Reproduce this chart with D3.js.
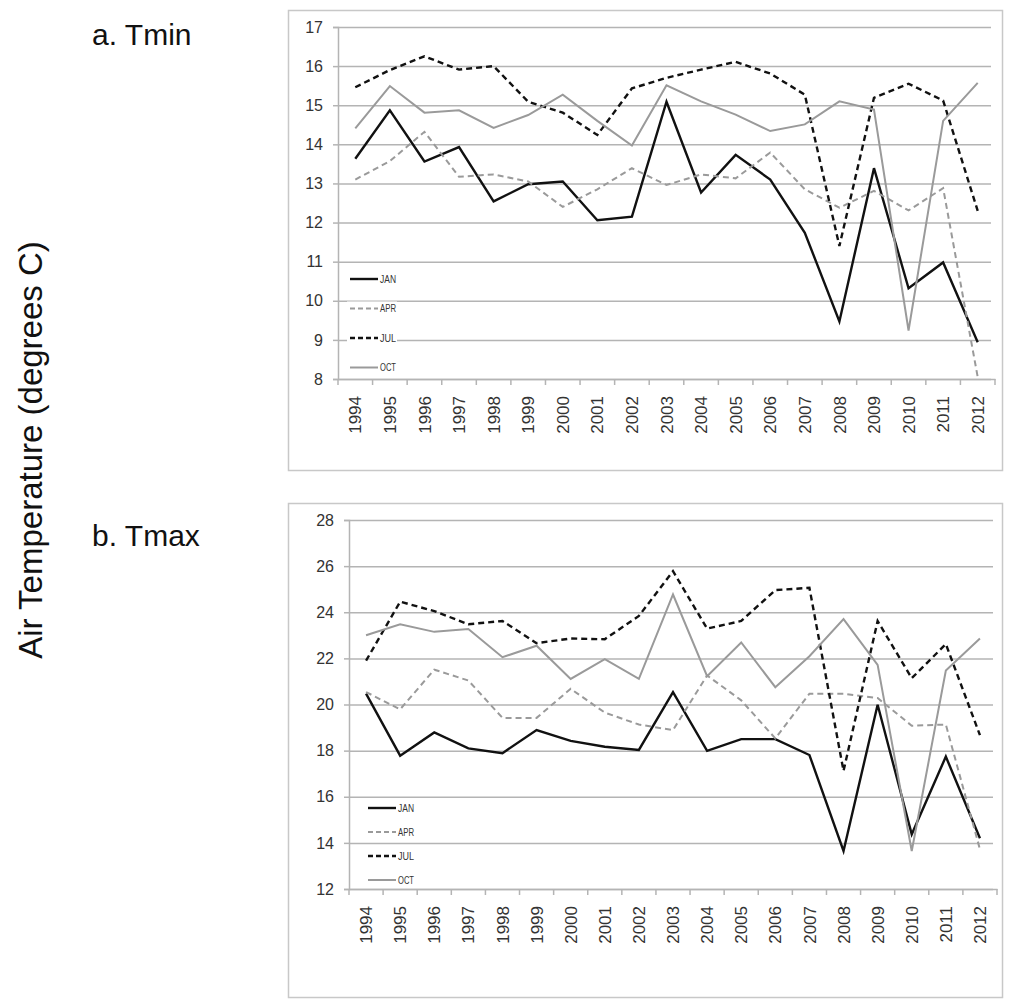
<!DOCTYPE html>
<html>
<head>
<meta charset="utf-8">
<script src="https://cdn.jsdelivr.net/npm/d3@7"></script>
<style>
  body { margin: 0; background: #fff; }
  svg { display: block; }
</style>
</head>
<body>
<svg id="chart" width="1024" height="1004"></svg>
<script>
const years = [1994, 1995, 1996, 1997, 1998, 1999, 2000, 2001, 2002, 2003,
               2004, 2005, 2006, 2007, 2008, 2009, 2010, 2011, 2012];

// a. Tmin
const tminJan = [13.63, 14.87, 13.56, 13.93, 12.54, 12.98, 13.05, 12.06, 12.15, 15.09,
                 12.77, 13.73, 13.10, 11.74, 9.47, 13.39, 10.32, 10.98, 8.94];
const tminApr = [13.10, 13.57, 14.32, 13.17, 13.23, 13.05, 12.40, 12.85, 13.39, 12.96,
                 13.23, 13.13, 13.79, 12.85, 12.38, 12.81, 12.31, 12.88, 8.05];
const tminJul = [15.46, 15.90, 16.25, 15.91, 16.00, 15.09, 14.81, 14.24, 15.43, 15.70,
                 15.91, 16.11, 15.81, 15.27, 11.40, 15.19, 15.55, 15.12, 12.30];
const tminOct = [14.41, 15.49, 14.81, 14.87, 14.42, 14.75, 15.27, 14.60, 13.97, 15.51,
                 15.10, 14.76, 14.34, 14.51, 15.10, 14.89, 9.24, 14.60, 15.57];
const tminTicks = [8, 9, 10, 11, 12, 13, 14, 15, 16, 17];

// b. Tmax
const tmaxJan = [20.47, 17.78, 18.79, 18.10, 17.89, 18.89, 18.42, 18.17, 18.03, 20.54,
                 17.99, 18.50, 18.50, 17.81, 13.65, 19.99, 14.37, 17.74, 14.20];
const tmaxApr = [20.54, 19.79, 21.51, 21.04, 19.42, 19.42, 20.68, 19.65, 19.13, 18.89,
                 21.26, 20.18, 18.53, 20.47, 20.47, 20.28, 19.08, 19.13, 13.72];
const tmaxJul = [21.90, 24.46, 24.05, 23.48, 23.62, 22.66, 22.86, 22.83, 23.84, 25.78,
                 23.29, 23.62, 24.96, 25.06, 17.12, 23.62, 21.14, 22.62, 18.67];
const tmaxOct = [23.00, 23.48, 23.15, 23.27, 22.05, 22.55, 21.11, 21.97, 21.11, 24.77,
                 21.23, 22.69, 20.75, 22.09, 23.70, 21.72, 13.65, 21.47, 22.86];
const tmaxTicks = [12, 14, 16, 18, 20, 22, 24, 26, 28];

const monthNames = ['JAN', 'APR', 'JUL', 'OCT'];
const monthStyles = {
  JAN: { color: '#111', width: 2.4, dash: null },
  APR: { color: '#9a9a9a', width: 2, dash: '6,4' },
  JUL: { color: '#111', width: 2.4, dash: '6,4' },
  OCT: { color: '#9a9a9a', width: 2, dash: null }
};

const FONT = 'Liberation Sans, Arial, sans-serif';
const svg = d3.select('#chart');

function drawPanel(opts) {
  const g = svg.append('g');

  // outer frame
  g.append('rect')
    .attr('x', opts.box[0] + 0.5).attr('y', opts.box[1] + 0.5)
    .attr('width', opts.box[2]).attr('height', opts.box[3])
    .attr('fill', 'none').attr('stroke', '#c8c8c8').attr('stroke-width', 1.5);

  const x = d3.scaleBand().domain(years).range([opts.left, opts.right]).padding(0);
  const y = d3.scaleLinear().domain(d3.extent(opts.ticks)).range([opts.bottom, opts.top]);

  // gridlines
  g.append('g')
    .attr('transform', `translate(${opts.left},0)`)
    .call(d3.axisLeft(y).tickValues(opts.ticks).tickSize(-(opts.right - opts.left - 4)).tickFormat(''))
    .call(a => a.select('.domain').remove())
    .call(a => a.selectAll('line').attr('stroke', '#b4b4b4').attr('stroke-width', 1.5));

  // y axis
  g.append('g')
    .attr('transform', `translate(${opts.left},0)`)
    .call(d3.axisLeft(y).tickValues(opts.ticks).tickSize(5).tickPadding(10))
    .call(a => a.select('.domain').attr('stroke', '#b4b4b4').attr('stroke-width', 1.5))
    .call(a => a.selectAll('line').attr('stroke', '#b4b4b4').attr('stroke-width', 1.5))
    .call(a => a.selectAll('text').attr('font-family', FONT)
      .attr('font-size', 16).attr('fill', '#333'));

  // x axis
  const xa = g.append('g')
    .attr('transform', `translate(0,${opts.bottom})`)
    .call(d3.axisBottom(x).tickSize(0).tickPadding(0));
  xa.select('.domain').attr('stroke', '#b4b4b4').attr('stroke-width', 1.5);
  xa.selectAll('.tick text')
    .attr('font-family', FONT).attr('font-size', 17).attr('fill', '#333')
    .attr('transform', 'rotate(-90)')
    .attr('text-anchor', 'end')
    .attr('x', -17).attr('y', 0).attr('dy', '0.36em');
  // band boundary ticks
  xa.selectAll('.bt')
    .data(years.concat([null]))
    .enter().append('line')
    .attr('x1', (d, i) => opts.left + i * x.bandwidth())
    .attr('x2', (d, i) => opts.left + i * x.bandwidth())
    .attr('y1', 0).attr('y2', 6)
    .attr('stroke', '#b4b4b4').attr('stroke-width', 1.5);

  // series
  const line = d3.line()
    .x((d, i) => x(years[i]) + x.bandwidth() / 2)
    .y(d => y(d));
  opts.series.forEach((vals, k) => {
    const st = monthStyles[monthNames[k]];
    g.append('path')
      .datum(vals)
      .attr('d', line)
      .attr('fill', 'none')
      .attr('stroke', st.color)
      .attr('stroke-width', st.width)
      .attr('stroke-dasharray', st.dash)
      .attr('stroke-linejoin', 'miter');
  });

  // legend
  const lg = g.append('g');
  monthNames.forEach((m, k) => {
    const st = monthStyles[m];
    const ly = opts.legendY + k * opts.legendGap;
    lg.append('rect')
      .attr('x', opts.legendX - 3).attr('y', ly - 7).attr('width', 50).attr('height', 14)
      .attr('fill', '#fff');
    lg.append('line')
      .attr('x1', opts.legendX).attr('x2', opts.legendX + 28)
      .attr('y1', ly).attr('y2', ly)
      .attr('stroke', st.color).attr('stroke-width', st.width)
      .attr('stroke-dasharray', st.dash ? '5,3' : null);
    lg.append('text')
      .attr('x', opts.legendX + 30).attr('y', ly).attr('dy', '0.36em')
      .attr('font-family', FONT).attr('font-size', 11).attr('fill', '#333')
      .attr('textLength', 16).attr('lengthAdjust', 'spacingAndGlyphs')
      .text(m);
  });

  svg.append('text')
    .attr('x', 92).attr('y', opts.titleY)
    .attr('font-family', FONT).attr('font-size', 30).attr('fill', '#111')
    .text(opts.title);
}

drawPanel({
  box: [288, 10, 714, 460],
  left: 338, right: 995, top: 27, bottom: 379,
  ticks: tminTicks,
  series: [tminJan, tminApr, tminJul, tminOct],
  legendX: 350, legendY: 279, legendGap: 29.5,
  title: 'a. Tmin', titleY: 45
});

drawPanel({
  box: [288, 503, 714, 494],
  left: 349, right: 997, top: 520, bottom: 889,
  ticks: tmaxTicks,
  series: [tmaxJan, tmaxApr, tmaxJul, tmaxOct],
  legendX: 368, legendY: 808, legendGap: 24,
  title: 'b. Tmax', titleY: 546
});

svg.append('text')
  .attr('transform', 'translate(42,450) rotate(-90)')
  .attr('text-anchor', 'middle')
  .attr('font-family', FONT).attr('font-size', 33).attr('fill', '#111')
  .text('Air Temperature (degrees C)');
</script>
</body>
</html>
